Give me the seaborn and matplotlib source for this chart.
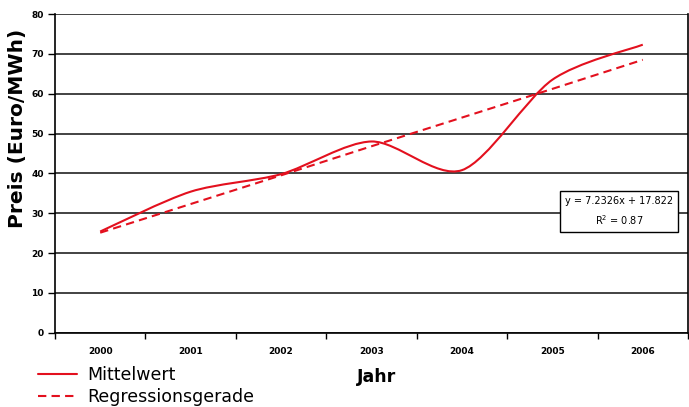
import numpy as np
import pandas as pd
import matplotlib
matplotlib.use("Agg")
import matplotlib.pyplot as plt
from matplotlib.path import Path
from matplotlib.patches import PathPatch
from matplotlib.lines import Line2D
import seaborn as sns

years = ["2000", "2001", "2002", "2003", "2004", "2005", "2006"]
mittelwert = [25.4, 35.4, 39.8, 48.0, 40.8, 63.5, 72.3]
regression = [25.1, 32.3, 39.5, 46.8, 54.0, 61.2, 68.5]
equation = "y = 7.2326x + 17.822"
r_squared = "R$^2$ = 0.87"

red = "#e3101e"

sns.set_theme(style="white")
plt.rcParams['font.family'] = ['DejaVu Sans']
plt.rcParams['text.color'] = 'black'
plt.rcParams['axes.labelcolor'] = 'black'

df = pd.DataFrame({"idx": np.arange(len(years)), "jahr": years,
                   "mittelwert": mittelwert, "regression": regression})

fig = plt.figure(figsize=(6.89, 4.07), dpi=100)
ax = fig.add_axes([55 / 689, 74.3 / 407, 633 / 689, 318.7 / 407])

# regression line (dashed)
sns.lineplot(data=df, x="idx", y="regression", ax=ax, color=red,
             linewidth=1.5, linestyle=(0, (4, 2.5)), zorder=3)

# smoothed mean line, Excel-like bezier through the points
pts = df[["idx", "mittelwert"]].to_numpy(dtype=float)
n = len(pts)
verts = [pts[0]]
codes = [Path.MOVETO]
k = 1 / 7
for i in range(n - 1):
    p_prev = pts[max(i - 1, 0)]
    p0 = pts[i]
    p1 = pts[i + 1]
    p_next = pts[min(i + 2, n - 1)]
    c1 = p0 + (p1 - p_prev) * k
    c2 = p1 - (p_next - p0) * k
    verts += [c1, c2, p1]
    codes += [Path.CURVE4] * 3
ax.add_patch(PathPatch(Path(verts, codes), fill=False, edgecolor=red,
                       linewidth=1.5, zorder=4))

ax.set_xlim(-0.5, len(years) - 0.5)
ax.set_ylim(0, 80)
ax.set_yticks(range(0, 81, 10))
ax.set_xticks(np.arange(-0.5, len(years), 1.0))
ax.set_xticklabels([])
ax.set_xticks(np.arange(len(years)), minor=True)
ax.set_xticklabels(years, minor=True)
ax.tick_params(axis="x", which="major", length=4, width=1, color="black",
               direction="out", bottom=True)
ax.tick_params(axis="x", which="minor", length=0, pad=10, labelsize=6.5,
               labelcolor="black")
ax.tick_params(axis="y", length=5, width=1, color="black", direction="out",
               left=True, labelsize=6.5, pad=3, labelcolor="black")
for lab in ax.get_xticklabels(minor=True) + ax.get_yticklabels():
    lab.set_fontweight("bold")

ax.grid(axis="y", color="#222222", linewidth=1.2)
ax.grid(axis="x", visible=False)
for side in ["left", "bottom", "right"]:
    ax.spines[side].set_color("black")
    ax.spines[side].set_linewidth(1.2)
ax.spines["top"].set_visible(False)

ax.set_xlabel("")
ax.set_ylabel("Preis (Euro/MWh)", fontsize=14.5, fontweight="bold")
ax.yaxis.set_label_coords(-0.045, 0.641)
fig.text(357 / 689, 1 - 377 / 407, "Jahr", fontsize=12.5, fontweight="bold",
         va="center", ha="left")

ax.text(0.891, 0.380, equation + "\n" + r_squared, transform=ax.transAxes,
        ha="center", va="center", fontsize=7, linespacing=1.6,
        bbox=dict(boxstyle="square,pad=0.55", facecolor="white",
                  edgecolor="black", linewidth=1.0), zorder=5)

handles = [Line2D([], [], color=red, linewidth=1.5),
           Line2D([], [], color=red, linewidth=1.5, linestyle=(0, (4, 2.5)))]
fig.legend(handles, ["Mittelwert", "Regressionsgerade"], loc="lower left",
           bbox_to_anchor=(0.033, -0.035), frameon=False,
           handlelength=2.2, handletextpad=0.6, labelspacing=0.2,
           prop={"size": 12.5})

fig.savefig("out.png", dpi=100)
